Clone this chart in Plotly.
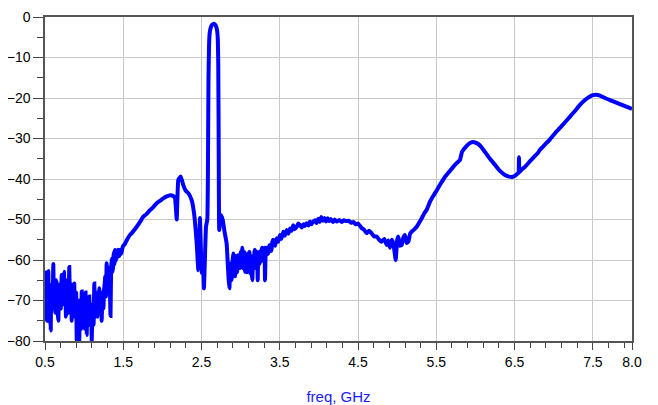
import plotly.graph_objects as go

# ---- data (frequency in GHz, response in dB) ----
# 0.5 - 1.5 GHz : noisy floor
freq_low = [
    0.500, 0.508, 0.513, 0.519, 0.526, 0.534, 0.542, 0.549, 0.557, 0.565, 0.573, 0.581,
    0.590, 0.598, 0.606, 0.614, 0.623, 0.632, 0.641, 0.648, 0.655, 0.662, 0.670, 0.681,
    0.692, 0.702, 0.713, 0.721, 0.730, 0.736, 0.743, 0.751, 0.760, 0.768, 0.777, 0.785,
    0.794, 0.802, 0.810, 0.818, 0.825, 0.833, 0.841, 0.850, 0.858, 0.866, 0.874, 0.882,
    0.890, 0.898, 0.905, 0.913, 0.922, 0.930, 0.938, 0.946, 0.953, 0.961, 0.969, 0.977,
    0.985, 0.993, 1.002, 1.010, 1.018, 1.026, 1.033, 1.042, 1.050, 1.058, 1.066, 1.074,
    1.082, 1.090, 1.097, 1.105, 1.113, 1.121, 1.130, 1.138, 1.145, 1.153, 1.161, 1.170,
    1.178, 1.186, 1.194, 1.202, 1.210, 1.217, 1.224, 1.232, 1.240, 1.247, 1.254, 1.262,
    1.270, 1.279, 1.288, 1.296, 1.305, 1.312, 1.320, 1.328, 1.337, 1.345, 1.352, 1.360,
    1.369, 1.376, 1.382, 1.388, 1.394, 1.400, 1.407, 1.414, 1.420, 1.430, 1.440, 1.450,
    1.458, 1.470, 1.480, 1.490, 1.500,
]
db_low = [
    -68.0, -64.0, -74.0, -63.0, -75.0, -66.0, -62.7, -71.0, -68.0, -74.0, -77.4, -67.0,
    -66.0, -72.0, -61.0, -70.0, -66.0, -73.0, -72.0, -65.0, -68.0, -73.0, -75.0, -67.0,
    -66.0, -72.0, -63.7, -71.0, -70.0, -66.0, -62.9, -70.0, -68.0, -74.0, -72.0, -65.0,
    -66.0, -73.0, -61.7, -69.0, -70.0, -66.0, -75.0, -69.0, -68.0, -72.0, -65.8, -74.0,
    -73.0, -68.0, -79.8, -70.0, -70.0, -76.0, -80.0, -70.0, -72.0, -77.0, -67.8, -73.0,
    -75.0, -69.0, -72.0, -77.0, -68.0, -74.0, -78.5, -70.0, -72.0, -76.0, -69.0, -74.0,
    -76.0, -71.0, -80.0, -73.0, -71.0, -76.0, -65.8, -72.0, -74.0, -68.0, -72.0, -74.0,
    -68.0, -71.0, -67.0, -73.0, -72.0, -68.0, -75.0, -70.0, -69.0, -72.0, -67.4, -66.0,
    -64.0, -69.0, -60.8, -66.0, -65.0, -62.0, -62.0, -66.0, -73.8, -62.0, -59.6, -63.0,
    -62.0, -59.0, -58.0, -61.0, -57.5, -60.0, -60.0, -58.0, -59.5, -57.5, -57.8, -59.0,
    -57.5, -58.5, -58.0, -57.0, -56.5,
]

# 1.5 - 2.82 GHz : rising skirt, spur near 2.2 GHz, passband at 2.65 GHz
freq_pass = [
    1.522, 1.548, 1.586, 1.624, 1.672, 1.714, 1.756, 1.790, 1.841, 1.880, 1.927, 1.969,
    2.011, 2.055, 2.097, 2.139, 2.161, 2.183, 2.203, 2.234, 2.267, 2.295, 2.331, 2.374,
    2.404, 2.438, 2.459, 2.471, 2.480, 2.502, 2.519, 2.531, 2.557, 2.574, 2.581, 2.589,
    2.596, 2.604, 2.615, 2.630, 2.650, 2.670, 2.688, 2.700, 2.708, 2.714, 2.720, 2.726,
    2.745, 2.770, 2.794, 2.821,
]
db_pass = [
    -56.0, -55.0, -53.8, -53.0, -51.8, -50.6, -49.3, -48.8, -47.7, -47.0, -46.0, -45.4,
    -44.8, -44.3, -44.0, -44.2, -44.7, -50.0, -40.2, -39.4, -41.5, -42.8, -43.5, -45.2,
    -48.4, -55.8, -62.5, -57.0, -49.6, -63.2, -59.0, -67.0, -51.8, -50.0, -40.0, -15.0,
    -7.0, -4.0, -2.8, -2.0, -1.7, -1.8, -2.4, -3.5, -5.5, -12.0, -35.0, -52.6,
    -48.9, -50.0, -53.0, -56.0,
]

# 2.83 - 3.42 GHz : noisy region above the passband
freq_mid = [
    2.838, 2.847, 2.857, 2.866, 2.876, 2.883, 2.889, 2.897, 2.906, 2.914, 2.922, 2.929,
    2.938, 2.948, 2.955, 2.962, 2.970, 2.980, 2.991, 3.000, 3.010, 3.021, 3.028, 3.036,
    3.045, 3.055, 3.062, 3.070, 3.080, 3.090, 3.098, 3.105, 3.112, 3.119, 3.125, 3.132,
    3.140, 3.149, 3.160, 3.170, 3.176, 3.183, 3.192, 3.202, 3.210, 3.218, 3.225, 3.232,
    3.240, 3.247, 3.254, 3.260, 3.268, 3.276, 3.287, 3.298, 3.305, 3.311, 3.320, 3.332,
    3.344, 3.356, 3.365, 3.375, 3.385, 3.394, 3.405, 3.417,
]
db_mid = [
    -62.0, -65.0, -67.0, -61.0, -60.8, -65.0, -64.0, -60.0, -58.4, -62.0, -60.0, -64.0,
    -59.0, -60.0, -63.0, -58.8, -61.0, -59.0, -62.0, -58.0, -61.0, -57.0, -62.0, -61.0,
    -58.0, -62.9, -60.0, -59.5, -63.0, -58.4, -62.0, -61.5, -58.0, -63.3, -59.0, -59.0,
    -63.0, -65.0, -59.0, -60.0, -58.0, -57.5, -62.0, -61.0, -58.0, -65.0, -59.0, -59.0,
    -61.0, -57.9, -60.5, -60.0, -57.5, -57.0, -60.0, -59.0, -57.0, -65.0, -58.0, -57.0,
    -58.5, -58.0, -56.5, -56.3, -57.8, -57.5, -55.5, -55.0,
]

# 3.44 - 5.45 GHz : broad hump around -50 dB
freq_hump = [
    3.440, 3.460, 3.480, 3.502, 3.520, 3.545, 3.565, 3.588, 3.610, 3.630, 3.650, 3.672,
    3.690, 3.716, 3.735, 3.758, 3.780, 3.800, 3.820, 3.843, 3.865, 3.886, 3.905, 3.928,
    3.950, 3.970, 3.990, 4.010, 4.030, 4.050, 4.070, 4.090, 4.110, 4.130, 4.150, 4.180,
    4.200, 4.230, 4.260, 4.290, 4.320, 4.350, 4.380, 4.410, 4.440, 4.470, 4.500, 4.546,
    4.580, 4.610, 4.640, 4.674, 4.705, 4.738, 4.770, 4.802, 4.835, 4.866, 4.885, 4.908,
    4.930, 4.950, 4.981, 5.000, 5.014, 5.035, 5.057, 5.078, 5.099, 5.120, 5.142, 5.165,
    5.185, 5.215, 5.249, 5.280, 5.313, 5.345, 5.377, 5.419, 5.450,
]
db_hump = [
    -56.5, -54.6, -55.5, -53.8, -54.8, -53.0, -54.0, -52.6, -53.5, -52.2, -52.8, -51.4,
    -52.4, -51.8, -51.0, -51.4, -52.0, -51.2, -51.6, -50.9, -51.5, -50.5, -51.2, -50.5,
    -50.2, -50.9, -49.8, -50.6, -49.4, -50.3, -49.6, -50.5, -49.7, -50.4, -49.9, -50.6,
    -50.0, -50.5, -50.1, -50.6, -50.2, -50.4, -50.3, -50.8, -50.6, -51.2, -51.0, -52.1,
    -52.6, -53.4, -52.8, -53.4, -54.2, -54.2, -55.0, -55.5, -54.8, -56.3, -55.2, -57.0,
    -55.0, -55.8, -60.0, -55.0, -54.2, -56.5, -56.3, -54.5, -53.8, -55.8, -55.5, -53.5,
    -53.0, -52.5, -51.8, -50.8, -49.7, -48.5, -47.6, -45.6, -44.5,
]

# 5.5 - 8.0 GHz : smooth upper region
freq_high = [
    5.508, 5.560, 5.610, 5.674, 5.738, 5.776, 5.802, 5.828, 5.879, 5.930, 5.981, 6.032,
    6.070, 6.120, 6.185, 6.249, 6.313, 6.377, 6.428, 6.466, 6.505, 6.530, 6.550, 6.556,
    6.562, 6.594, 6.633, 6.697, 6.760, 6.800, 6.824, 6.888, 6.952, 7.016, 7.080, 7.144,
    7.208, 7.271, 7.335, 7.399, 7.463, 7.501, 7.540, 7.591, 7.655, 7.719, 7.783, 7.847,
    7.911, 8.000,
]
db_high = [
    -42.7, -41.0, -39.5, -38.0, -36.5, -35.8, -35.3, -33.3, -32.0, -31.1, -30.9, -31.3,
    -32.0, -33.3, -35.0, -36.5, -38.0, -39.0, -39.4, -39.5, -39.2, -38.8, -38.5, -34.6,
    -38.3, -37.6, -37.0, -35.6, -34.3, -33.5, -32.8, -31.5, -30.2, -28.7, -27.4, -26.0,
    -24.6, -23.2, -21.7, -20.5, -19.6, -19.3, -19.2, -19.4, -20.0, -20.5, -21.0, -21.5,
    -22.0, -22.7,
]

x_tickvals = [0.5, 1.5, 2.5, 3.5, 4.5, 5.5, 6.5, 7.5, 8.0]
x_ticktext = ["0.5", "1.5", "2.5", "3.5", "4.5", "5.5", "6.5", "7.5", "8.0"]
y_tickvals = [0, -10, -20, -30, -40, -50, -60, -70, -80]

freq = freq_low + freq_pass + freq_mid + freq_hump + freq_high
s21_db = db_low + db_pass + db_mid + db_hump + db_high

fig = go.Figure()
fig.add_trace(go.Scatter(
    x=freq, y=s21_db, mode="lines",
    line=dict(color="#0000FF", width=4, shape="spline", smoothing=0.3),
    showlegend=False,
))

axis_font = dict(family="Liberation Sans, Arial, sans-serif", size=14, color="#000000")

# the page adds an 8px body margin, so the figure is sized to fit the window
fig.update_layout(
    width=650, height=397,
    margin=dict(l=37, r=26, t=9, b=64),
    paper_bgcolor="white", plot_bgcolor="white",
    font=axis_font,
)
fig.update_xaxes(
    range=[0.5, 8.0],
    tickvals=x_tickvals, ticktext=x_ticktext,
    ticks="outside", ticklen=7, tickwidth=1.2, tickcolor="#444",
    minor=dict(tick0=0.5, dtick=0.2, ticks="outside", ticklen=5, tickwidth=1,
               tickcolor="#444", showgrid=False),
    showgrid=True, gridcolor="#c8c8c8", gridwidth=1,
    showline=True, linecolor="#555", linewidth=1.5, mirror=True,
    zeroline=False, tickfont=axis_font, ticklabelstandoff=0,
    title=dict(text="freq, GHz",
               font=dict(family="Liberation Sans, Arial, sans-serif", size=15, color="#1a1aff"),
               standoff=28),
    automargin=False,
)
fig.update_yaxes(
    range=[-80, 0],
    tickvals=y_tickvals,
    ticks="outside", ticklen=10, tickwidth=1.2, tickcolor="#444",
    minor=dict(dtick=5, ticks="outside", ticklen=6, tickwidth=1, tickcolor="#444",
               showgrid=False),
    showgrid=True, gridcolor="#c8c8c8", gridwidth=1,
    showline=True, linecolor="#555", linewidth=1.5, mirror=True,
    zeroline=False, tickfont=axis_font,
    automargin=False,
)

fig.write_html("out.html")
